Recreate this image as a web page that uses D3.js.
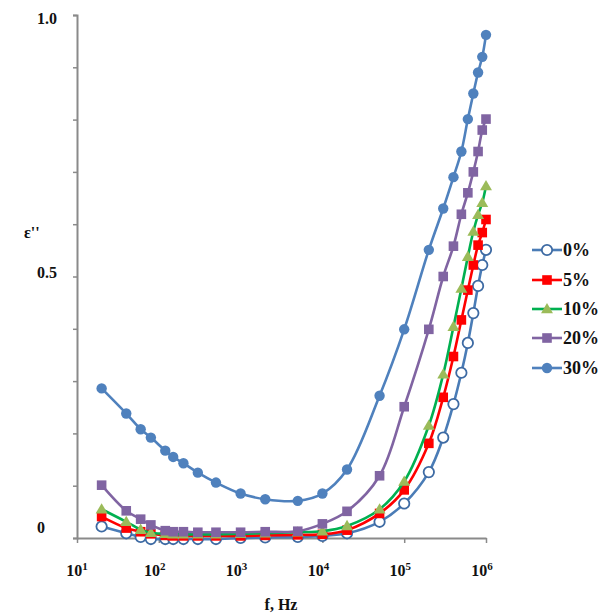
<!DOCTYPE html>
<html><head><meta charset="utf-8">
<script src="https://cdn.jsdelivr.net/npm/d3@7"></script>
<style>body{margin:0;background:#fff}svg{display:block}text{font-family:"Liberation Serif","Times New Roman",serif;font-weight:bold;fill:#111}</style>
</head><body><svg id="c" width="606" height="616"></svg>
<script>
const freqs = [20,40,60,80,120,150,200,300,500,1000,2000,5000,1e4,2e4,5e4,1e5,2e5,3e5,4e5,5e5,6e5,7e5,8e5,9e5,1e6];
const s0  = [0.022,0.009,0.002,-0.002,-0.002,-0.002,-0.002,-0.002,-0.002,0.000,0.001,0.002,0.004,0.009,0.031,0.066,0.126,0.192,0.256,0.316,0.373,0.430,0.482,0.522,0.551];
const s5  = [0.041,0.019,0.012,0.008,0.005,0.004,0.004,0.004,0.004,0.004,0.005,0.006,0.007,0.015,0.047,0.092,0.181,0.269,0.347,0.417,0.474,0.522,0.560,0.584,0.609];
const s10 = [0.055,0.031,0.016,0.010,0.008,0.007,0.007,0.007,0.007,0.008,0.009,0.011,0.013,0.023,0.055,0.108,0.215,0.313,0.404,0.477,0.538,0.586,0.618,0.641,0.673];
const s20 = [0.101,0.052,0.036,0.025,0.014,0.012,0.012,0.011,0.011,0.011,0.012,0.013,0.027,0.051,0.119,0.251,0.399,0.500,0.558,0.619,0.660,0.700,0.739,0.780,0.801];
const s30 = [0.286,0.238,0.208,0.192,0.167,0.155,0.143,0.125,0.106,0.085,0.074,0.071,0.085,0.131,0.272,0.399,0.551,0.630,0.690,0.739,0.801,0.850,0.890,0.920,0.962];
const seriesNames = ["0%","5%","10%","20%","30%"];
const xTicks = [1e1,1e2,1e3,1e4,1e5,1e6];
const yLabels = [0,0.5,1.0];

const svg = d3.select("#c");
const x = d3.scaleLog().domain([10,1e6]).range([77,486]);
const y = d3.scaleLinear().domain([0,1]).range([538,15]);

const styles = [
  {line:"#4a7cb6", shape:"circle", fill:"#fff", stroke:"#3d6aa3", sw:1.8},
  {line:"#ff0000", shape:"square", fill:"#ff0000", stroke:"#ff0000", sw:0},
  {line:"#00b050", shape:"triangle", fill:"#9bbb59", stroke:"#9bbb59", sw:0},
  {line:"#8064a2", shape:"square", fill:"#8064a2", stroke:"#8064a2", sw:0},
  {line:"#4f81bd", shape:"circle", fill:"#4f81bd", stroke:"#4f81bd", sw:0}
];
const data = [s0,s5,s10,s20,s30];

// axes
const gy = svg.append("g").attr("transform","translate(77,0)")
  .call(d3.axisLeft(y).tickValues(d3.range(0,1.0001,0.1)).tickSize(4).tickFormat(""));
gy.select(".domain").attr("stroke","#8a8a8a").attr("stroke-width",2);
gy.selectAll(".tick line").attr("stroke","#8a8a8a").attr("stroke-width",1.5);

const gx = svg.append("g").attr("transform","translate(0,538)")
  .call(d3.axisBottom(x).tickValues(xTicks).tickSize(5).tickSizeOuter(0).tickFormat(""));
gx.select(".domain").attr("stroke","#8a8a8a").attr("stroke-width",2);
gx.selectAll(".tick line").attr("stroke","#8a8a8a").attr("stroke-width",1.5);

// x tick labels
const xl = svg.append("g");
xTicks.forEach((t,i)=>{
  const tx = xl.append("text").attr("x", x(t) - (i===0?0:4)).attr("y",576).attr("text-anchor","middle").style("font-size","16px");
  tx.append("tspan").text("10");
  tx.append("tspan").attr("dy",-6).style("font-size","11px").text(String(Math.round(Math.log10(t))));
});
// y tick labels
const yOff = {0:-11, 0.5:-5, 1:3};
yLabels.forEach(v=>{
  svg.append("text").attr("x",37).attr("y", y(v)+yOff[v]+6).style("font-size","16px")
    .text(v===0?"0":d3.format(".1f")(v));
});
svg.append("text").attr("x",24).attr("y",238).style("font-size","16px").text("ε''");
svg.append("text").attr("x",281).attr("y",610).attr("text-anchor","middle").style("font-size","16px").text("f, Hz");

function marker(g, shape, st, cx, cy){
  if(shape==="circle"){
    g.append("circle").attr("cx",cx).attr("cy",cy).attr("r",5.2).attr("fill",st.fill).attr("stroke",st.stroke).attr("stroke-width",st.sw);
  } else if(shape==="square"){
    g.append("rect").attr("x",cx-4.8).attr("y",cy-4.8).attr("width",9.6).attr("height",9.6).attr("fill",st.fill);
  } else {
    g.append("path").attr("d",d3.symbol(d3.symbolTriangle,62)()).attr("transform",`translate(${cx},${cy+0.8})`).attr("fill",st.fill);
  }
}

const line = d3.line().x(d=>x(d[0])).y(d=>y(d[1])).curve(d3.curveCatmullRom.alpha(0.5));
data.forEach((vals,i)=>{
  const st = styles[i];
  const pts = freqs.map((f,j)=>[f,vals[j]]);
  const g = svg.append("g");
  g.append("path").attr("d",line(pts)).attr("fill","none").attr("stroke",st.line).attr("stroke-width",2.6);
  pts.forEach(p=>marker(g, st.shape, st, x(p[0]), y(p[1])));
});

// legend
const legY = [250,280,309,338,368];
seriesNames.forEach((n,i)=>{
  const st = styles[i];
  const g = svg.append("g");
  g.append("line").attr("x1",532).attr("x2",562).attr("y1",legY[i]).attr("y2",legY[i]).attr("stroke",st.line).attr("stroke-width",2.6);
  marker(g, st.shape, st, 547, legY[i]);
  g.append("text").attr("x",563).attr("y",legY[i]+6).style("font-size","18px").text(n);
});
</script></body></html>
